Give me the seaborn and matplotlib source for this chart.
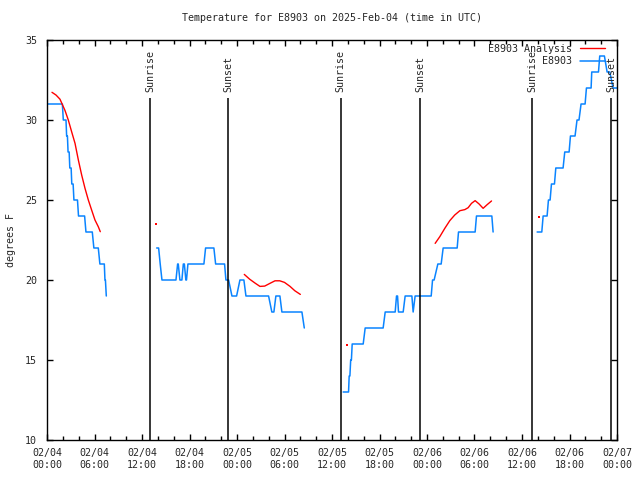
import seaborn as sns
import matplotlib
matplotlib.use("Agg")
import matplotlib.pyplot as plt
from matplotlib.lines import Line2D
import pandas as pd

# ---------------- data (hours since 02/04 00:00 UTC, degrees F) ----------------
obs_t1 = [0.08, 1.94, 2.06, 2.40, 2.48, 2.58, 2.66, 2.80, 2.88, 3.05, 3.13, 3.30, 3.40,
          3.85, 3.98, 4.75, 4.92, 5.72, 5.92, 6.48, 6.68, 7.24, 7.32, 7.38, 7.49]
obs_v1 = [31, 31, 30, 30, 29, 29, 28, 28, 27, 27, 26, 26, 25,
          25, 24, 24, 23, 23, 22, 22, 21, 21, 20, 20, 19]

obs_t2 = [13.85, 14.10, 14.30, 14.52, 16.29, 16.50, 16.58, 16.79, 17.04, 17.22, 17.35, 17.54,
          17.62, 17.80, 19.82, 20.03, 21.08, 21.30, 22.43, 22.60, 22.94, 23.36, 23.95, 24.37,
          24.87, 25.13, 27.99, 28.40, 28.66, 28.91, 29.42, 29.67, 32.20, 32.50]
obs_v2 = [22, 22, 21, 20, 20, 21, 21, 20, 20, 21, 21, 20,
          20, 21, 21, 22, 22, 21, 21, 20, 20, 19, 19, 20,
          20, 19, 19, 18, 18, 19, 19, 18, 18, 17]

obs_t3 = [37.41, 38.09, 38.17, 38.26, 38.36, 38.45, 38.55, 39.94, 40.19, 42.46, 42.72, 43.98,
          44.15, 44.28, 44.40, 44.99, 45.24, 46.09, 46.25, 46.50, 48.53, 48.70, 48.90, 49.37,
          49.79, 50.04, 51.81, 51.98, 54.08, 54.25, 56.19, 56.35]
obs_v3 = [13, 13, 14, 14, 15, 15, 16, 16, 17, 17, 18, 18,
          19, 19, 18, 18, 19, 19, 18, 19, 19, 20, 20, 21,
          21, 22, 22, 23, 23, 24, 24, 23]

obs_t4 = [61.91, 62.50, 62.67, 63.17, 63.34, 63.55, 63.72, 64.10, 64.27, 65.19, 65.40, 65.95,
          66.12, 66.70, 66.95, 67.20, 67.46, 67.97, 68.14, 68.73, 68.81, 69.66, 69.82, 70.41,
          70.75, 71.09, 71.50, 72.00]
obs_v4 = [23, 23, 24, 24, 25, 25, 26, 26, 27, 27, 28, 28,
          29, 29, 30, 30, 31, 31, 32, 32, 33, 33, 34, 34,
          33, 33, 32, 32]

ana_t1 = [0.63, 1.14, 1.64, 2.27, 2.69, 3.11, 3.54, 3.96, 4.38, 4.80, 5.22, 5.64, 6.06, 6.48, 6.73]
ana_v1 = [31.73, 31.56, 31.30, 30.60, 30.00, 29.27, 28.54, 27.50, 26.56, 25.73, 25.00, 24.37,
          23.75, 23.33, 23.02]
ana_t2 = [24.92, 25.60, 26.30, 26.90, 27.50, 28.20, 28.80, 29.40, 30.00, 30.70, 31.30, 32.00]
ana_v2 = [20.35, 20.05, 19.80, 19.60, 19.62, 19.80, 19.95, 19.95, 19.85, 19.60, 19.33, 19.10]
ana_t3 = [49.03, 49.62, 50.25, 50.88, 51.50, 52.15, 52.78, 53.20, 53.62, 54.08, 54.58, 55.09,
          55.60, 56.15]
ana_v3 = [22.29, 22.71, 23.23, 23.71, 24.06, 24.33, 24.40, 24.52, 24.79, 24.96, 24.75, 24.48,
          24.71, 24.94]
ana_dot_t = [13.76, 37.92, 62.16]
ana_dot_v = [23.48, 15.92, 23.92]

sunrise_t = [13.00, 37.08, 61.30]
sunset_t = [22.89, 47.16, 71.25]

xtick_pos = [0, 6, 12, 18, 24, 30, 36, 42, 48, 54, 60, 66, 72]
xtick_labels = ["02/04\n00:00", "02/04\n06:00", "02/04\n12:00", "02/04\n18:00",
                "02/05\n00:00", "02/05\n06:00", "02/05\n12:00", "02/05\n18:00",
                "02/06\n00:00", "02/06\n06:00", "02/06\n12:00", "02/06\n18:00",
                "02/07\n00:00"]
ytick_pos = [10, 15, 20, 25, 30, 35]

title = "Temperature for E8903 on 2025-Feb-04 (time in UTC)"
ylabel = "degrees F"
label_obs = "E8903"
label_ana = "E8903 Analysis"

# ---------------- build tables ----------------
def seg_frame(segs):
    rows = []
    for i, (ts, vs) in enumerate(segs):
        for t, v in zip(ts, vs):
            rows.append({"t": t, "v": v, "seg": i})
    return pd.DataFrame(rows)

obs_df = seg_frame([(obs_t1, obs_v1), (obs_t2, obs_v2), (obs_t3, obs_v3), (obs_t4, obs_v4)])
ana_df = seg_frame([(ana_t1, ana_v1), (ana_t2, ana_v2), (ana_t3, ana_v3)])
dot_df = pd.DataFrame({"t": ana_dot_t, "v": ana_dot_v})

# ---------------- plot ----------------
sns.set_style("ticks")
plt.rcParams["font.family"] = ["DejaVu Sans Mono", "DejaVu Sans"]
plt.rcParams["font.size"] = 7.2

BLUE = "#0A84FF"
RED = "#FF0000"
FS = 7.2

fig = plt.figure(figsize=(6.4, 4.8), dpi=100)
ax = fig.add_axes([47 / 640, 40 / 480, 570 / 640, 400 / 480])

sns.lineplot(data=obs_df, x="t", y="v", units="seg", estimator=None, sort=False,
             color=BLUE, lw=1.1, ax=ax, legend=False)
sns.lineplot(data=ana_df, x="t", y="v", units="seg", estimator=None, sort=False,
             color=RED, lw=1.0, ax=ax, legend=False)
sns.scatterplot(data=dot_df, x="t", y="v", color=RED, s=3, marker="s",
                linewidth=0, ax=ax, legend=False)

for t in sunrise_t:
    ax.vlines(t, 10, 31.4, color="black", lw=1.1)
    ax.text(t, 31.75, "Sunrise", rotation=90, ha="center", va="bottom", fontsize=FS)
for t in sunset_t:
    ax.vlines(t, 10, 31.4, color="black", lw=1.1)
    ax.text(t, 31.75, "Sunset", rotation=90, ha="center", va="bottom", fontsize=FS)

ax.set_xlim(0, 72)
ax.set_ylim(10, 35)
ax.set_xticks(xtick_pos)
ax.set_xticklabels(xtick_labels, fontsize=FS)
ax.set_xticks(list(range(0, 73, 2)), minor=True)
ax.set_yticks(ytick_pos)
ax.set_yticklabels([str(v) for v in ytick_pos], fontsize=FS)
ax.tick_params(which="both", direction="in", top=True, right=True, width=1, color="black")
ax.tick_params(which="major", length=4, pad=6)
ax.tick_params(which="minor", length=3)
ax.tick_params(axis="y", pad=7)
for s in ax.spines.values():
    s.set_visible(True)
    s.set_color("black")
    s.set_linewidth(1.0)

ax.set_xlabel("")
ax.set_ylabel(ylabel, fontsize=FS, labelpad=4)
ax.yaxis.set_label_coords(-0.055, 0.5)
ax.set_title(title, fontsize=FS, pad=14)

handles = [Line2D([], [], color=RED, lw=1.0), Line2D([], [], color=BLUE, lw=1.1)]
ax.legend(handles, [label_ana, label_obs], loc="upper right", frameon=False,
          markerfirst=False, handlelength=2.5, handletextpad=0.8,
          bbox_to_anchor=(0.986, 1.0), borderaxespad=0.0,
          labelspacing=0.25, fontsize=FS)

fig.savefig("out.png", dpi=100)
